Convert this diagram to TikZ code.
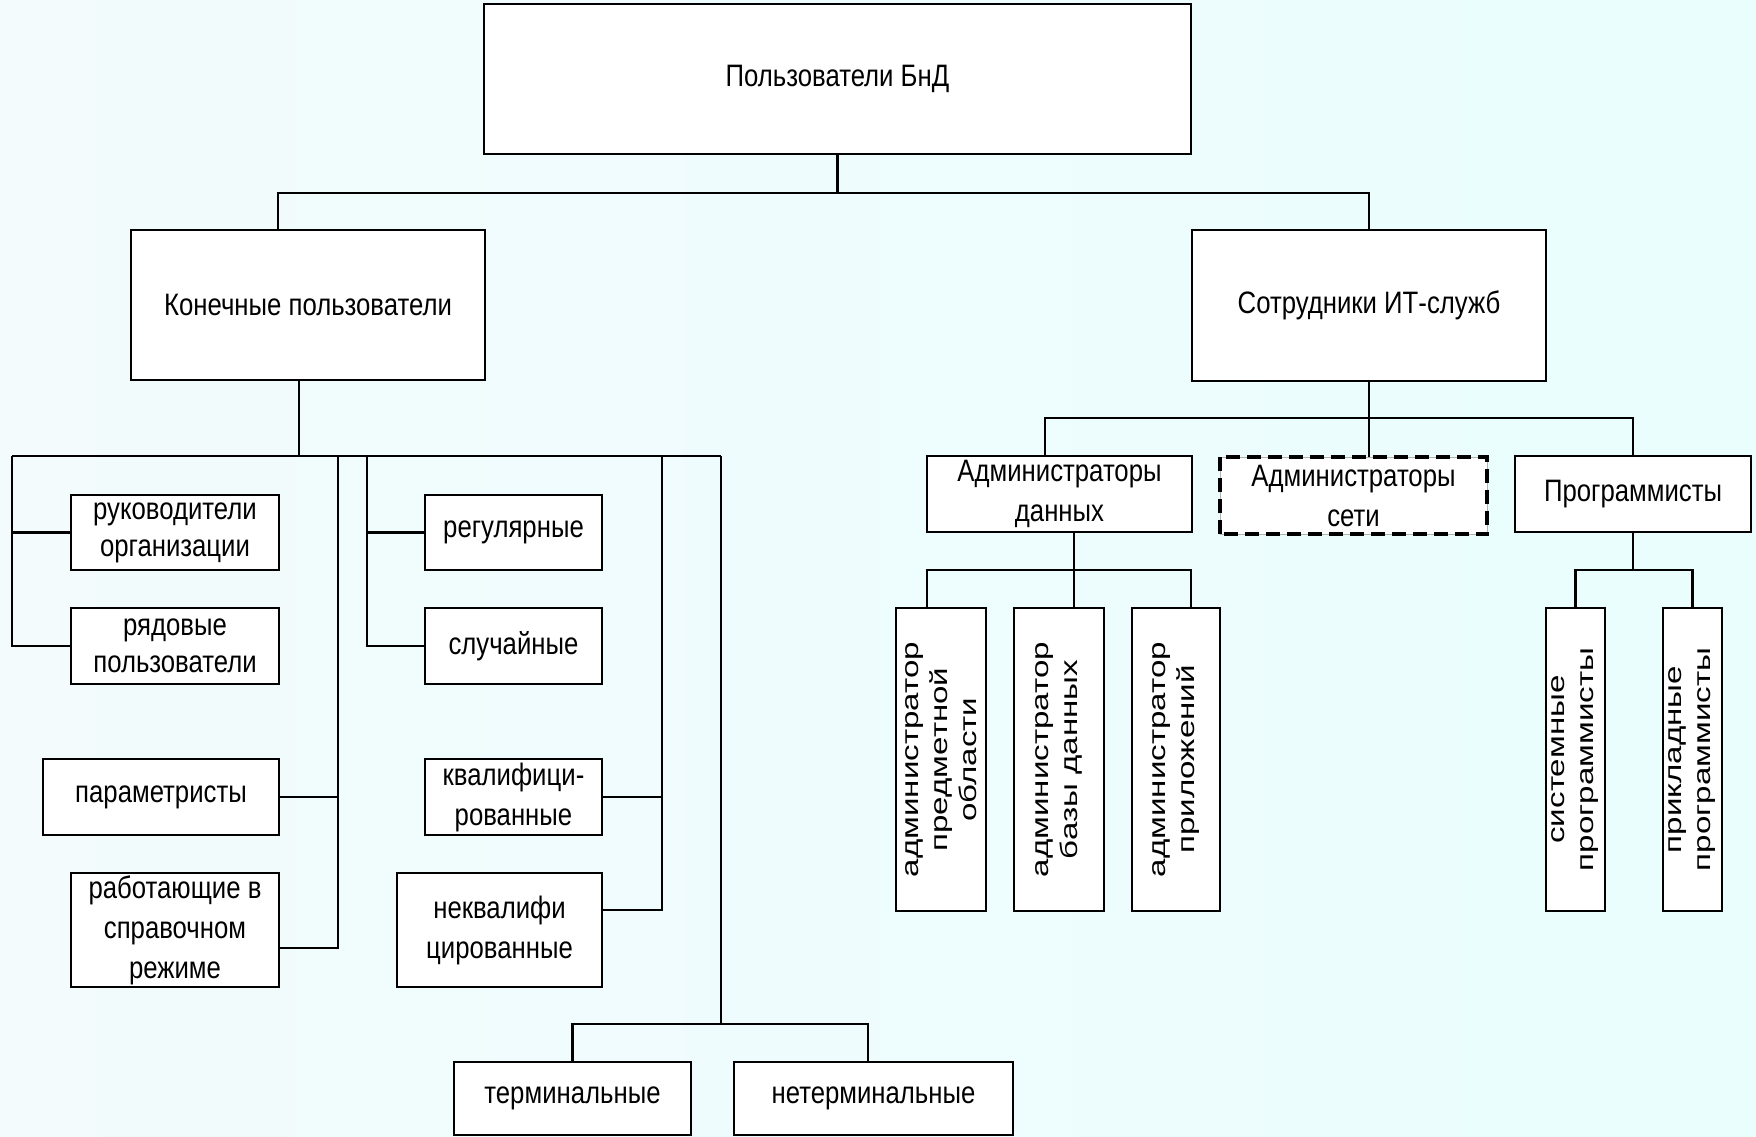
\documentclass[tikz,border=0pt]{standalone}
\usepackage{fontspec}
\setmainfont{Liberation Sans}[FakeStretch=0.83]
\newfontfamily\colfont{Liberation Sans}[FakeStretch=1.38]
\usetikzlibrary{calc}

\definecolor{bgleft}{RGB}{243,251,252}
\definecolor{bgright}{RGB}{234,254,254}

\tikzset{
  box/.style={draw, fill=white, line width=2.8pt, inner sep=0pt, align=center,
              font=\fontsize{31}{40}\selectfont},
  tight/.style={font=\fontsize{31}{37}\selectfont},
  vbox/.style={draw, fill=white, line width=2.8pt, inner sep=0pt},
  vtext/.style={rotate=90, inner sep=0pt, align=center,
                font=\colfont\fontsize{24}{29}\selectfont},
  wire/.style={line width=2.8pt},
  dashbox/.style={line width=4pt, dash pattern=on 14pt off 7pt},
}

\begin{document}
\begin{tikzpicture}[x=1pt, y=-1pt]
\useasboundingbox (0,0) rectangle (1756,1137);
\shade[left color=bgleft, right color=bgright] (0,0) rectangle (1756,1137);

% --- top levels ---
\node[box, minimum width=707, minimum height=150] (root) at (837.5,79) {Пользователи БнД};
\node[box, minimum width=354, minimum height=150] (endu) at (308,305) {Конечные пользователи};
\node[box, minimum width=354, minimum height=151] (itst) at (1369,305.5) {Сотрудники ИТ-служб};

% --- IT staff branch ---
\node[box, minimum width=265, minimum height=76] (admd) at (1059.5,494) {Администраторы\\данных};
\node[box, draw=gray!60, line width=0.6pt, minimum width=267, minimum height=77] (admn) at (1353.5,495.5) {Администраторы\\сети};
\draw[dashbox] (admn.south west) rectangle (admn.north east);
\node[box, minimum width=236, minimum height=76] (prog) at (1633,494) {Программисты};

\node[vbox, minimum width=90, minimum height=303] (a1) at (941,759.5) {};
\node[vtext] (a1t) at (a1) {администратор\\предметной\\области};
\node[vbox, minimum width=90, minimum height=303] (a2) at (1059,759.5) {};
\node[vtext] (a2t) at (a2) {администратор\\базы данных};
\node[vbox, minimum width=88, minimum height=303] (a3) at (1176,759.5) {};
\node[vtext] (a3t) at (a3) {администратор\\приложений};

\node[vbox, minimum width=59, minimum height=303] (s1) at (1575.5,759.5) {};
\node[vtext] (s1t) at (s1) {системные\\программисты};
\node[vbox, minimum width=59, minimum height=303] (s2) at (1692.5,759.5) {};
\node[vtext] (s2t) at (s2) {прикладные\\программисты};

% --- end users branch ---
\node[box, tight, minimum width=208, minimum height=75] (r1) at (175,532.5) {руководители\\организации};
\node[box, tight, minimum width=208, minimum height=76] (r2) at (175,646) {рядовые\\пользователи};
\node[box, minimum width=236, minimum height=76] (p1) at (161,797) {параметристы};
\node[box, minimum width=208, minimum height=114] (p2) at (175,930) {работающие в\\справочном\\режиме};
\node[box, minimum width=177, minimum height=75] (q1) at (513.5,532.5) {регулярные};
\node[box, minimum width=177, minimum height=76] (q2) at (513.5,646) {случайные};
\node[box, minimum width=177, minimum height=76] (k1) at (513.5,797) {квалифици-\\рованные};
\node[box, minimum width=205, minimum height=114] (k2) at (499.5,930) {неквалифи\\цированные};
\node[box, minimum width=237, minimum height=73] (t1) at (572.5,1098.5) {терминальные};
\node[box, minimum width=279, minimum height=73] (t2) at (873.5,1098.5) {нетерминальные};

% --- junction points of the connector buses ---
\coordinate (topbus) at (837.5,193);
\coordinate (busL) at (12,456);
\coordinate (colB) at (338,456);
\coordinate (colC) at (367,456);
\coordinate (colD) at (662,456);
\coordinate (busR) at (721,456);
\coordinate (termbus) at (721,1024);
\coordinate (itbus) at (1369,418);
\coordinate (admbus) at (1074,570);
\coordinate (progbus) at (1633,570);

% --- connectors ---
\draw[wire] (root.south) -- (topbus);
\draw[wire] ([xshift=-30pt]endu.north) |- (topbus) -| (itst.north);

\draw[wire] ([xshift=-9pt]endu.south) -- ([xshift=-9pt]endu.south |- busL);
\draw[wire] (busL) -- (busR);
\draw[wire] (busL) |- (r2.west);
\draw[wire] (r1.west) -- (r1.west -| busL);
\draw[wire] (colB) |- ([yshift=-18pt]p2.east);
\draw[wire] (p1.east) -- (p1.east -| colB);
\draw[wire] (colC) |- (q2.west);
\draw[wire] (q1.west) -- (q1.west -| colC);
\draw[wire] (colD) |- ([yshift=20pt]k2.east);
\draw[wire] (k1.east) -- (k1.east -| colD);
\draw[wire] (busR) -- (termbus);
\draw[wire] (t1.north) |- (termbus) -| ([xshift=-5.5pt]t2.north);

\draw[wire] (itst.south) -- (itst.south |- admn.north);
\draw[wire] ([xshift=-14.5pt]admd.north) |- (itbus) -| (prog.north);

\draw[wire] ([xshift=14.5pt]admd.south) -- ([xshift=15pt]a2.north);
\draw[wire] ([xshift=-14pt]a1.north) |- (admbus) -| ([xshift=15pt]a3.north);

\draw[wire] (prog.south) -- (progbus);
\draw[wire] (s1.north) |- (progbus) -| (s2.north);
\end{tikzpicture}
\end{document}
